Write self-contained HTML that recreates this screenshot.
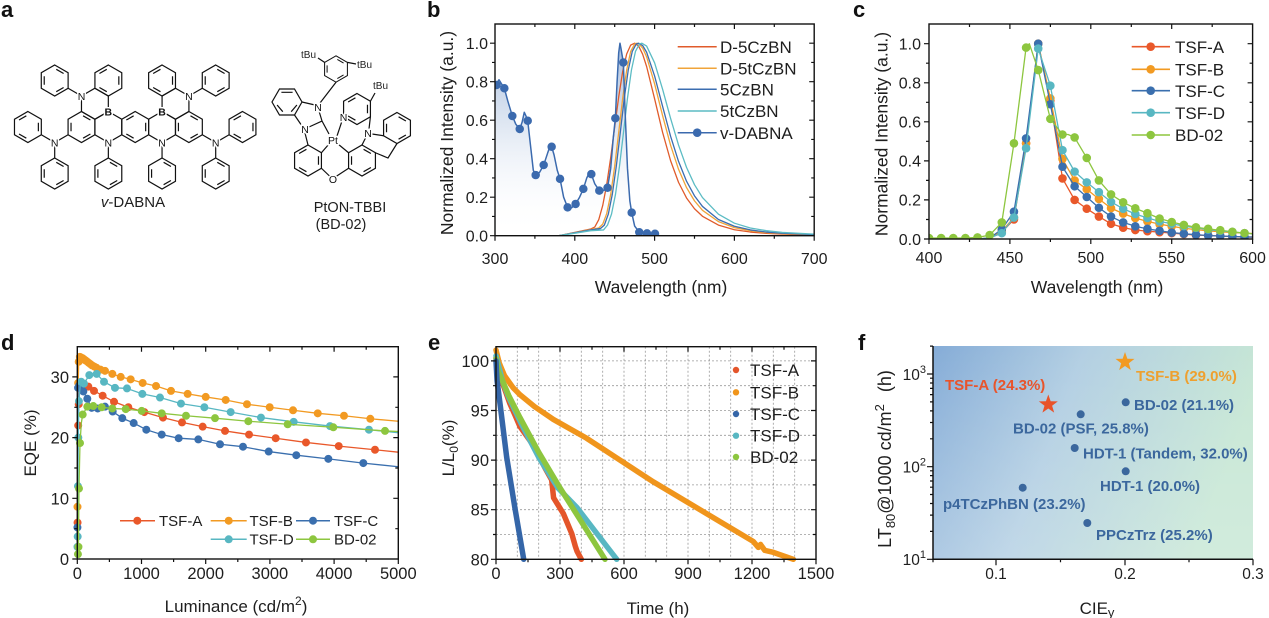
<!DOCTYPE html>
<html><head><meta charset="utf-8"><style>
html,body{margin:0;padding:0;background:#fff;}
svg{display:block;}
text{font-family:"Liberation Sans",Arial,sans-serif;fill:#1e1e1e;}
.lab{font-size:10.5px;text-anchor:middle;paint-order:stroke;stroke:#fff;stroke-width:3px;fill:#111;}
.pl{font-size:22px;font-weight:bold;fill:#111;}
.tk{font-size:16px;}
.ft{font-size:15px;font-weight:bold;fill:#3b679d;}
.nss{vector-effect:non-scaling-stroke;}
</style></head><body>
<svg width="1269" height="618" viewBox="0 0 1269 618" xmlns="http://www.w3.org/2000/svg">
<defs>
<g id="hx"><polygon points="0,-15.5 13.42,-7.75 13.42,7.75 0,15.5 -13.42,7.75 -13.42,-7.75"/></g>
<g id="bz1"><polygon points="0,-15.5 13.42,-7.75 13.42,7.75 0,15.5 -13.42,7.75 -13.42,-7.75"/><path d="M1.57,-11.19L8.9,-6.96M8.9,6.96L1.57,11.19M-10.47,4.24L-10.47,-4.24"/></g>
<g id="bz2"><polygon points="0,-15.5 13.42,-7.75 13.42,7.75 0,15.5 -13.42,7.75 -13.42,-7.75"/><path d="M10.47,-4.24L10.47,4.24M-1.57,11.19L-8.9,6.96M-8.9,-6.96L-1.57,-11.19"/></g>
<g id="fh"><polygon points="15,0 7.5,13 -7.5,13 -15,0 -7.5,-13 7.5,-13"/><path d="M5.6,-9.7L-5.6,-9.7M-9.9,3.0L-4.2,9.7M9.9,3.0L4.2,9.7"/></g>
<linearGradient id="absg" gradientUnits="userSpaceOnUse" x1="0" y1="1.02" x2="0" y2="0">
<stop offset="0" stop-color="#6f93c6" stop-opacity="0.62"/><stop offset="0.5" stop-color="#8fabd4" stop-opacity="0.22"/><stop offset="1" stop-color="#ffffff" stop-opacity="0"/></linearGradient>
<linearGradient id="fbg" x1="0" y1="0" x2="1" y2="0.25">
<stop offset="0" stop-color="#85acd7"/><stop offset="0.45" stop-color="#b3cfe3"/><stop offset="1" stop-color="#c7e7d5"/></linearGradient>
<linearGradient id="fbg2" x1="0" y1="0" x2="0" y2="1">
<stop offset="0" stop-color="#fff" stop-opacity="0"/><stop offset="1" stop-color="#fff" stop-opacity="0.18"/></linearGradient>
<clipPath id="cpb"><rect x="495" y="24" width="319.2" height="211.7"/></clipPath>
<clipPath id="cpc"><rect x="929" y="24" width="323.6" height="215"/></clipPath>
<path id="star" d="M0,-10L2.35,-3.23L9.51,-3.09L3.8,1.23L5.88,8.09L0,4L-5.88,8.09L-3.8,1.23L-9.51,-3.09L-2.35,-3.23Z"/>
</defs>

<!-- panel labels -->
<text class="pl" x="1" y="17">a</text>
<text class="pl" x="427" y="17">b</text>
<text class="pl" x="853" y="17">c</text>
<text class="pl" x="1" y="350">d</text>
<text class="pl" x="428" y="350">e</text>
<text class="pl" x="858" y="350">f</text>

<!-- ================= panel a ================= -->
<g fill="none" stroke="#111" stroke-width="1.2">
<use href="#bz1" x="81.5" y="127"/>
<use href="#hx" x="108.35" y="127"/>
<use href="#bz2" x="135.2" y="127"/>
<use href="#hx" x="162.05" y="127"/>
<use href="#bz1" x="188.9" y="127"/>
<use href="#hx" x="94.9" y="103.75"/>
<use href="#hx" x="175.5" y="103.75"/>
<use href="#bz2" x="108.35" y="80.5"/>
<use href="#bz2" x="162.05" y="80.5"/>
<use href="#bz1" x="54.7" y="80.5"/>
<use href="#bz1" x="215.7" y="80.5"/>
<use href="#bz1" x="108.35" y="173.5"/>
<use href="#bz1" x="162.05" y="173.5"/>
<use href="#bz2" x="27.9" y="127"/>
<use href="#bz1" x="54.7" y="173.5"/>
<use href="#bz2" x="242.5" y="127"/>
<use href="#bz1" x="215.7" y="173.5"/>
<path d="M81.5,96L68.1,88.25M188.9,96L202.3,88.25M108.35,142.5V158M162.05,142.5V158M68.1,134.75L54.7,142.5L41.3,134.75M54.7,142.5V158M202.3,134.75L215.7,142.5L229.1,134.75M215.7,142.5V158"/>
</g>
<text class="lab" x="81.5" y="100">N</text>
<text class="lab" x="188.9" y="100">N</text>
<text class="lab" x="108.35" y="146.5">N</text>
<text class="lab" x="162.05" y="146.5">N</text>
<text class="lab" x="54.7" y="146.5">N</text>
<text class="lab" x="215.7" y="146.5">N</text>
<text class="lab" x="108.35" y="115.5" font-weight="bold">B</text>
<text class="lab" x="162.05" y="115.5" font-weight="bold">B</text>
<text x="133" y="207" font-size="15" text-anchor="middle"><tspan font-style="italic">v</tspan>-DABNA</text>

<!-- PtON-TBBI -->
<g fill="none" stroke="#111" stroke-width="1.2">
<use href="#bz1" transform="translate(336,69) scale(0.85)"/>
<use href="#fh" x="287" y="102"/>
<use href="#bz2" x="308" y="160.5"/>
<use href="#bz1" x="362" y="160.5"/>
<use href="#bz2" x="357" y="109"/>
<use href="#bz1" x="397" y="128"/>
<path d="M324.6,62.4L318,58M347.4,62.4L356,64M320,103L336,82.2M302,102L315,105M319,111L322,121L309,127M302,126L294.5,115M305,133L308,145M322,121L329,134M329,144L321.4,152.75M321.4,168.25L330,176.5M336,176.5L348.6,168.25M338,144L348.6,152.75M337,136L342,121M369,129L370.4,116.75M366,137L362,145M370.4,101.25L375,93M372,134L383.6,135.75M397,143.5L388,158L375.4,152.75"/>
</g>
<text x="301" y="58" font-size="10">tBu</text>
<text x="357" y="68" font-size="10">tBu</text>
<text x="373" y="89" font-size="10">tBu</text>
<text class="lab" x="318" y="111">N</text>
<text class="lab" x="305" y="133">N</text>
<text class="lab" x="343.6" y="121">N</text>
<text class="lab" x="368" y="137">N</text>
<text class="lab" x="333" y="144">Pt</text>
<text class="lab" x="333" y="183">O</text>
<text x="350" y="212" font-size="14.5" text-anchor="middle">PtON-TBBI</text>
<text x="341" y="229" font-size="14.5" text-anchor="middle">(BD-02)</text>

<!-- ================= panel b ================= -->
<g clip-path="url(#cpb)">
<g transform="matrix(0.798,0,0,-192.5,255.6,235.7)">
<path fill="url(#absg)" stroke="none" d="M300 0L300 0.78L302 0.79L305 0.81L308 0.79L311.7 0.766L316 0.70L321.7 0.622L326 0.58L331 0.554L334 0.59L336.7 0.641L339 0.62L341 0.597L345 0.45L348 0.34L351 0.315L356 0.33L361 0.367L366 0.43L369 0.465L371 0.462L374 0.42L378 0.34L381.5 0.295L386 0.2L391 0.147L396 0.145L401 0.165L406 0.2L410.7 0.243L415 0.3L418 0.325L420.7 0.32L425 0.27L430.7 0.234L436 0.235L441 0.249L445 0.35L448 0.5L450.8 0.61L453 0.8L455 0.95L456.6 1.0L458 0.97L460.8 0.9L463 0.65L466 0.35L469 0.18L471.3 0.12L475 0.05L480.8 0.018L490 0.012L500.5 0.01L500.5 0Z"/>
<g fill="none" stroke-width="1.3" stroke-linejoin="round">
<path class="nss" stroke="#e05b2b" d="M380 0L400 0.017L420 0.035L425 0.045L430 0.083L435 0.157L440 0.266L445 0.406L450 0.565L455 0.721L460 0.853L465 0.944L470 0.99L475 1L480 0.985L485 0.943L490 0.879L500 0.711L510 0.537L520 0.39L530 0.277L540 0.196L550 0.14L560 0.101L580 0.055L600 0.031L620 0.019L640 0.012L660 0.008L700 0.004"/>
<path class="nss" stroke="#f0a43a" d="M380 0L400 0.016L420 0.032L430 0.04L435 0.06L440 0.115L445 0.215L450 0.361L455 0.536L460 0.714L465 0.861L470 0.957L475 0.996L478 1L480 0.998L485 0.975L490 0.929L500 0.789L510 0.624L520 0.47L530 0.345L540 0.25L550 0.181L560 0.132L580 0.073L600 0.042L620 0.026L640 0.016L660 0.011L700 0.005"/>
<path class="nss" stroke="#3b6db0" d="M380 0L400 0.015L420 0.03L432 0.037L437 0.055L442 0.112L447 0.215L452 0.361L457 0.536L462 0.714L467 0.861L472 0.957L477 0.996L480 1L485 0.988L490 0.953L500 0.83L510 0.672L520 0.517L530 0.386L540 0.283L550 0.207L560 0.152L580 0.084L600 0.049L620 0.03L640 0.019L660 0.013L700 0.006"/>
<path class="nss" stroke="#5cbcc4" d="M380 0L400 0.013L420 0.026L436 0.03L441 0.055L446 0.112L451 0.215L456 0.361L461 0.536L466 0.714L471 0.861L476 0.957L481 0.996L484 1L490 0.985L500 0.898L510 0.761L520 0.61L530 0.471L540 0.355L550 0.265L560 0.198L580 0.112L600 0.065L620 0.04L640 0.026L660 0.017L700 0.008"/>
<path class="nss" stroke="#3b6aae" stroke-width="1.5" d="M300 0.78L302 0.79L305 0.81L308 0.79L311.7 0.766L316 0.70L321.7 0.622L326 0.58L331 0.554L334 0.59L336.7 0.641L339 0.62L341 0.597L345 0.45L348 0.34L351 0.315L356 0.33L361 0.367L366 0.43L369 0.465L371 0.462L374 0.42L378 0.34L381.5 0.295L386 0.2L391 0.147L396 0.145L401 0.165L406 0.2L410.7 0.243L415 0.3L418 0.325L420.7 0.32L425 0.27L430.7 0.234L436 0.235L441 0.249L445 0.35L448 0.5L450.8 0.61L453 0.8L455 0.95L456.6 1.0L458 0.97L460.8 0.9L463 0.65L466 0.35L469 0.18L471.3 0.12L475 0.05L480.8 0.018L490 0.012L500.5 0.01"/>
<path class="nss" stroke="#3b6aae" stroke-width="8.5" stroke-linecap="round" d="M302 0.783h0M311.7 0.766h0M321.7 0.622h0M331 0.554h0M341 0.597h0M351 0.315h0M361 0.367h0M371 0.462h0M381.5 0.295h0M391 0.147h0M401 0.165h0M410.7 0.243h0M420.7 0.32h0M430.7 0.234h0M441 0.249h0M450.8 0.61h0M460.8 0.9h0M471.3 0.12h0M480.8 0.018h0M490.5 0.012h0M500.5 0.01h0"/>
</g>
</g>
</g>
<rect x="495" y="24" width="319.2" height="211.7" fill="none" stroke="#111" stroke-width="1.4"/>
<path fill="none" stroke="#111" stroke-width="1.2" d="M495 235.7v5M574.8 235.7v5M654.6 235.7v5M734.4 235.7v5M814.2 235.7v5M534.9 235.7v3M614.7 235.7v3M694.5 235.7v3M774.3 235.7v3M574.8 24v5M654.6 24v5M734.4 24v5M534.9 24v3M614.7 24v3M694.5 24v3M774.3 24v3M495 235.7h-5M495 197.2h-5M495 158.7h-5M495 120.2h-5M495 81.7h-5M495 43.2h-5M495 216.45h-3M495 177.95h-3M495 139.45h-3M495 100.95h-3M495 62.45h-3M814.2 197.2h-5M814.2 158.7h-5M814.2 120.2h-5M814.2 81.7h-5M814.2 43.2h-5M814.2 216.45h-3M814.2 177.95h-3M814.2 139.45h-3M814.2 100.95h-3M814.2 62.45h-3"/>
<g class="tk" text-anchor="end">
<text x="488" y="241.5">0.0</text><text x="488" y="203">0.2</text><text x="488" y="164.5">0.4</text><text x="488" y="126">0.6</text><text x="488" y="87.5">0.8</text><text x="488" y="49">1.0</text>
</g>
<g class="tk" text-anchor="middle">
<text x="495" y="264">300</text><text x="574.8" y="264">400</text><text x="654.6" y="264">500</text><text x="734.4" y="264">600</text><text x="814.2" y="264">700</text>
</g>
<text x="661" y="293" font-size="17.5" text-anchor="middle">Wavelength (nm)</text>
<text transform="translate(453,133) rotate(-90)" font-size="17.5" text-anchor="middle">Normalized Intensity (a.u.)</text>
<g stroke-width="1.5">
<line x1="677.7" y1="46.7" x2="716.7" y2="46.7" stroke="#e05b2b"/>
<line x1="677.7" y1="68.3" x2="716.7" y2="68.3" stroke="#f0a43a"/>
<line x1="677.7" y1="89.3" x2="716.7" y2="89.3" stroke="#3b6db0"/>
<line x1="677.7" y1="111" x2="716.7" y2="111" stroke="#5cbcc4"/>
<line x1="677.7" y1="132.7" x2="716.7" y2="132.7" stroke="#3b6aae"/>
</g>
<circle cx="697.2" cy="132.7" r="4.3" fill="#3b6aae"/>
<g font-size="17">
<text x="720" y="52.8">D-5CzBN</text><text x="720" y="74.4">D-5tCzBN</text><text x="720" y="95.4">5CzBN</text><text x="720" y="117.1">5tCzBN</text><text x="720" y="138.8">v-DABNA</text>
</g>

<!-- ================= panel c ================= -->
<g clip-path="url(#cpc)">
<g transform="matrix(1.618,0,0,-195.3,281.8,239)" fill="none" stroke-linejoin="round">
<path class="nss" stroke="#e9582a" stroke-width="1.3" d="M430 0L437.5 0.005L445 0.035L452.5 0.10L460 0.49L467.5 1.0L475 0.71L482.5 0.31L490 0.20L497.5 0.155L505 0.115L512.5 0.078L520 0.058L527.5 0.046L535 0.04L542.5 0.035L550 0.03L557.5 0.025L565 0.02L572.5 0.018L580 0.015L587.5 0.012L595 0.01L600 0.01"/>
<path class="nss" stroke="#e9582a" stroke-width="8.6" stroke-linecap="round" d="M445 0.035h0M452.5 0.10h0M460 0.49h0M467.5 1.0h0M475 0.71h0M482.5 0.31h0M490 0.20h0M497.5 0.155h0M505 0.115h0M512.5 0.078h0M520 0.058h0M527.5 0.046h0M535 0.04h0M542.5 0.035h0M550 0.03h0M557.5 0.025h0M565 0.02h0M572.5 0.018h0M580 0.015h0M587.5 0.012h0M595 0.01h0"/>
<path class="nss" stroke="#f29a22" stroke-width="1.3" d="M430 0L437.5 0.005L445 0.04L452.5 0.11L460 0.49L467.5 1.0L475 0.72L482.5 0.41L490 0.30L497.5 0.255L505 0.205L512.5 0.158L520 0.13L527.5 0.107L535 0.09L542.5 0.076L550 0.065L557.5 0.055L565 0.048L572.5 0.042L580 0.037L587.5 0.033L595 0.03L600 0.028"/>
<path class="nss" stroke="#f29a22" stroke-width="8.6" stroke-linecap="round" d="M445 0.04h0M452.5 0.11h0M460 0.49h0M467.5 1.0h0M475 0.72h0M482.5 0.41h0M490 0.30h0M497.5 0.255h0M505 0.205h0M512.5 0.158h0M520 0.13h0M527.5 0.107h0M535 0.09h0M542.5 0.076h0M550 0.065h0M557.5 0.055h0M565 0.048h0M572.5 0.042h0M580 0.037h0M587.5 0.033h0M595 0.03h0"/>
<path class="nss" stroke="#3a6fae" stroke-width="1.3" d="M430 0L437.5 0.005L445 0.05L452.5 0.14L460 0.515L467.5 1.0L475 0.69L482.5 0.37L490 0.27L497.5 0.215L505 0.16L512.5 0.115L520 0.085L527.5 0.065L535 0.052L542.5 0.042L550 0.033L557.5 0.027L565 0.022L572.5 0.018L580 0.015L587.5 0.013L595 0.011L600 0.01"/>
<path class="nss" stroke="#3a6fae" stroke-width="8.6" stroke-linecap="round" d="M445 0.05h0M452.5 0.14h0M460 0.515h0M467.5 1.0h0M475 0.69h0M482.5 0.37h0M490 0.27h0M497.5 0.215h0M505 0.16h0M512.5 0.115h0M520 0.085h0M527.5 0.065h0M535 0.052h0M542.5 0.042h0M550 0.033h0M557.5 0.027h0M565 0.022h0M572.5 0.018h0M580 0.015h0M587.5 0.013h0M595 0.011h0"/>
<path class="nss" stroke="#58b7c2" stroke-width="1.3" d="M430 0L437.5 0.005L445 0.03L452.5 0.11L460 0.465L467.5 0.975L475 0.785L482.5 0.455L490 0.345L497.5 0.29L505 0.24L512.5 0.19L520 0.155L527.5 0.128L535 0.108L542.5 0.09L550 0.078L557.5 0.066L565 0.057L572.5 0.048L580 0.042L587.5 0.036L595 0.03L600 0.027"/>
<path class="nss" stroke="#58b7c2" stroke-width="8.6" stroke-linecap="round" d="M445 0.03h0M452.5 0.11h0M460 0.465h0M467.5 0.975h0M475 0.785h0M482.5 0.455h0M490 0.345h0M497.5 0.29h0M505 0.24h0M512.5 0.19h0M520 0.155h0M527.5 0.128h0M535 0.108h0M542.5 0.09h0M550 0.078h0M557.5 0.066h0M565 0.057h0M572.5 0.048h0M580 0.042h0M587.5 0.036h0M595 0.03h0"/>
<path class="nss" stroke="#8dc63f" stroke-width="1.3" d="M400 0.005L407.5 0.005L415 0.005L422.5 0.005L430 0.008L437.5 0.02L445 0.085L452.5 0.49L460 0.98L462 1.0L467.5 0.865L475 0.615L482.5 0.535L486 0.535L490 0.52L497.5 0.415L505 0.30L512.5 0.228L520 0.188L527.5 0.157L535 0.132L542.5 0.105L550 0.087L557.5 0.072L565 0.06L572.5 0.052L580 0.045L587.5 0.037L595 0.03L600 0.027"/>
<path class="nss" stroke="#8dc63f" stroke-width="8.6" stroke-linecap="round" d="M400 0.005h0M407.5 0.005h0M415 0.005h0M422.5 0.005h0M430 0.008h0M437.5 0.02h0M445 0.085h0M452.5 0.49h0M460 0.98h0M467.5 0.865h0M475 0.615h0M482.5 0.535h0M490 0.52h0M497.5 0.415h0M505 0.30h0M512.5 0.228h0M520 0.188h0M527.5 0.157h0M535 0.132h0M542.5 0.105h0M550 0.087h0M557.5 0.072h0M565 0.06h0M572.5 0.052h0M580 0.045h0M587.5 0.037h0M595 0.03h0M602.5 0.025h0"/>
</g>
</g>
<rect x="929" y="24" width="323.6" height="215" fill="none" stroke="#111" stroke-width="1.4"/>
<path fill="none" stroke="#111" stroke-width="1.2" d="M929 239v5M1009.9 239v5M1090.8 239v5M1171.7 239v5M1252.6 239v5M969.5 239v3M1050.4 239v3M1131.3 239v3M1212.2 239v3M1009.9 24v5M1090.8 24v5M1171.7 24v5M969.5 24v3M1050.4 24v3M1131.3 24v3M1212.2 24v3M929 239h-5M929 199.9h-5M929 160.9h-5M929 121.8h-5M929 82.8h-5M929 43.7h-5M929 219.5h-3M929 180.4h-3M929 141.3h-3M929 102.3h-3M929 63.2h-3M1252.6 199.9h-5M1252.6 160.9h-5M1252.6 121.8h-5M1252.6 82.8h-5M1252.6 43.7h-5M1252.6 219.5h-3M1252.6 180.4h-3M1252.6 141.3h-3M1252.6 102.3h-3M1252.6 63.2h-3"/>
<g class="tk" text-anchor="end">
<text x="921" y="244.8">0.0</text><text x="921" y="205.7">0.2</text><text x="921" y="166.7">0.4</text><text x="921" y="127.6">0.6</text><text x="921" y="88.6">0.8</text><text x="921" y="49.5">1.0</text>
</g>
<g class="tk" text-anchor="middle">
<text x="929" y="263">400</text><text x="1009.9" y="263">450</text><text x="1090.8" y="263">500</text><text x="1171.7" y="263">550</text><text x="1252.6" y="263">600</text>
</g>
<text x="1097" y="293" font-size="17.5" text-anchor="middle">Wavelength (nm)</text>
<text transform="translate(887.5,134) rotate(-90)" font-size="17.5" text-anchor="middle">Normalized Intensity (a.u.)</text>
<g stroke-width="1.6">
<line x1="1131.7" y1="46.7" x2="1170" y2="46.7" stroke="#e9582a"/>
<line x1="1131.7" y1="69.3" x2="1170" y2="69.3" stroke="#f29a22"/>
<line x1="1131.7" y1="90.7" x2="1170" y2="90.7" stroke="#3a6fae"/>
<line x1="1131.7" y1="112.7" x2="1170" y2="112.7" stroke="#58b7c2"/>
<line x1="1131.7" y1="135" x2="1170" y2="135" stroke="#8dc63f"/>
</g>
<circle cx="1150.7" cy="46.7" r="4.3" fill="#e9582a"/>
<circle cx="1150.7" cy="69.3" r="4.3" fill="#f29a22"/>
<circle cx="1150.7" cy="90.7" r="4.3" fill="#3a6fae"/>
<circle cx="1150.7" cy="112.7" r="4.3" fill="#58b7c2"/>
<circle cx="1150.7" cy="135" r="4.3" fill="#8dc63f"/>
<g font-size="17">
<text x="1175" y="52.8">TSF-A</text><text x="1175" y="75.4">TSF-B</text><text x="1175" y="96.8">TSF-C</text><text x="1175" y="118.8">TSF-D</text><text x="1175" y="141.1">BD-02</text>
</g>

<!-- ================= panel d ================= -->
<g transform="matrix(0.0642,0,0,-6.07,77.3,559)" fill="none" stroke-linejoin="round">
<path class="nss" stroke="#e9582a" stroke-width="1.3" d="M0 0.5L4 6L8 15L14 22L22 25.5L35 27.5L60 28.4L100 28.5L172 28.4L260 27.7L395 26.9L572 25.9L795 25L1044 24.2L1335 23.3L1631 22.5L1953 21.8L2301 21.1L2675 20.5L3090 19.9L3562 19.2L4072 18.6L4637 18L5000 17.6"/>
<path class="nss" stroke="#e9582a" stroke-width="8" stroke-linecap="round" d="M4 6h0M14 22h0M22 25.5h0M60 28.4h0M172 28.4h0M260 27.7h0M395 26.9h0M572 25.9h0M795 25h0M1044 24.2h0M1335 23.3h0M1631 22.5h0M1953 21.8h0M2301 21.1h0M2675 20.5h0M3090 19.9h0M3562 19.2h0M4072 18.6h0M4637 18h0"/>
<path class="nss" stroke="#f29a22" stroke-width="1.3" d="M0 0.5L3 8.6L8 20L14 29L22 32.5L40 33.3L60 33.2L80 33.1L105 32.9L130 32.7L155 32.5L180 32.3L205 32.1L230 31.9L265 31.7L300 31.5L360 31.2L431 31L545 30.5L676 30L831 29.6L1018 29L1226 28.5L1459 27.7L1719 27.2L2000 26.7L2311 26.2L2643 25.5L2997 25L3360 24.5L3745 24L4154 23.6L4564 23.1L5000 22.7"/>
<path class="nss" stroke="#f29a22" stroke-width="8" stroke-linecap="round" d="M3 8.6h0M14 29h0M22 32.5h0M40 33.3h0M60 33.2h0M80 33.1h0M105 32.9h0M130 32.7h0M155 32.5h0M180 32.3h0M205 32.1h0M230 31.9h0M265 31.7h0M300 31.5h0M360 31.2h0M431 31h0M545 30.5h0M676 30h0M831 29.6h0M1018 29h0M1226 28.5h0M1459 27.7h0M1719 27.2h0M2000 26.7h0M2311 26.2h0M2643 25.5h0M2997 25h0M3360 24.5h0M3745 24h0M4154 23.6h0M4564 23.1h0"/>
<path class="nss" stroke="#3a6fae" stroke-width="1.3" d="M0 0.5L2 5.2L5 15L8 25L12 28.2L30 28.6L60 28.1L94 27.6L156 26.4L224 24.9L318 24.8L431 25.1L551 24.3L701 23.2L878 22.4L1075 21.3L1315 20.5L1579 19.9L1885 19.7L2223 18.9L2581 18.5L2981 17.7L3411 17.1L3910 16.5L4455 15.8L5000 15.2"/>
<path class="nss" stroke="#3a6fae" stroke-width="8" stroke-linecap="round" d="M2 5.2h0M12 28.2h0M30 28.6h0M60 28.1h0M94 27.6h0M156 26.4h0M224 24.9h0M318 24.8h0M431 25.1h0M551 24.3h0M701 23.2h0M878 22.4h0M1075 21.3h0M1315 20.5h0M1579 19.9h0M1885 19.7h0M2223 18.9h0M2581 18.5h0M2981 17.7h0M3411 17.1h0M3910 16.5h0M4455 15.8h0"/>
<path class="nss" stroke="#58b7c2" stroke-width="1.3" d="M0 0.5L3 2L6 3.7L10 12L16 20L25 26L45 28.6L60 29.2L104 28.9L187 30.3L302 30.5L416 29.2L587 28.2L774 28.1L1013 27.2L1288 26.6L1615 25.6L1979 25L2389 24.2L2861 23.3L3370 22.6L3936 21.9L4543 21.3L5000 20.8"/>
<path class="nss" stroke="#58b7c2" stroke-width="8" stroke-linecap="round" d="M3 2h0M6 3.7h0M10 12h0M16 20h0M25 26h0M60 29.2h0M104 28.9h0M187 30.3h0M302 30.5h0M416 29.2h0M587 28.2h0M774 28.1h0M1013 27.2h0M1288 26.6h0M1615 25.6h0M1979 25h0M2389 24.2h0M2861 23.3h0M3370 22.6h0M3936 21.9h0M4543 21.3h0"/>
<path class="nss" stroke="#8dc63f" stroke-width="1.3" d="M0 0.3L10 0.8L18 2L26 11.6L42 19.1L63 22.4L84 23.8L156 25.1L249 25.2L380 25L545 24.8L754 24.7L1003 24.4L1315 24L1693 23.6L2145 23.2L2664 22.7L3277 22.2L3988 21.7L4793 21.1L5000 21"/>
<path class="nss" stroke="#8dc63f" stroke-width="8" stroke-linecap="round" d="M10 0.8h0M18 2h0M26 11.6h0M42 19.1h0M84 23.8h0M156 25.1h0M249 25.2h0M380 25h0M545 24.8h0M754 24.7h0M1003 24.4h0M1315 24h0M1693 23.6h0M2145 23.2h0M2664 22.7h0M3277 22.2h0M3988 21.7h0M4793 21.1h0"/>
</g>
<rect x="77.3" y="346.7" width="321" height="212.3" fill="none" stroke="#111" stroke-width="1.4"/>
<path fill="none" stroke="#111" stroke-width="1.2" d="M77.3 559v5M141.5 559v5M205.7 559v5M269.9 559v5M334.1 559v5M398.3 559v5M109.4 559v3M173.6 559v3M237.8 559v3M302 559v3M366.2 559v3M141.5 346.7v5M205.7 346.7v5M269.9 346.7v5M334.1 346.7v5M109.4 346.7v3M173.6 346.7v3M237.8 346.7v3M302 346.7v3M366.2 346.7v3M77.3 559h-5M77.3 498.3h-5M77.3 437.6h-5M77.3 376.9h-5M77.3 528.7h-3M77.3 468h-3M77.3 407.3h-3M398.3 498.3h-5M398.3 437.6h-5M398.3 376.9h-5M398.3 528.7h-3M398.3 468h-3M398.3 407.3h-3"/>
<g font-size="16.5" text-anchor="end">
<text x="69" y="565">0</text><text x="69" y="504.3">10</text><text x="69" y="443.6">20</text><text x="69" y="382.9">30</text>
</g>
<g font-size="16.5" text-anchor="middle">
<text x="77.3" y="579">0</text><text x="141.5" y="579">1000</text><text x="205.7" y="579">2000</text><text x="269.9" y="579">3000</text><text x="334.1" y="579">4000</text><text x="398.3" y="579">5000</text>
</g>
<text x="236" y="612" font-size="17" text-anchor="middle">Luminance (cd/m<tspan dy="-7" font-size="12">2</tspan><tspan dy="7">)</tspan></text>
<text transform="translate(36,443) rotate(-90)" font-size="17" text-anchor="middle">EQE (%)</text>
<g stroke-width="1.5">
<line x1="120" y1="520.7" x2="155" y2="520.7" stroke="#e9582a"/>
<line x1="210.7" y1="520.7" x2="246.7" y2="520.7" stroke="#f29a22"/>
<line x1="296" y1="520.7" x2="330" y2="520.7" stroke="#3a6fae"/>
<line x1="210.7" y1="539.3" x2="246.7" y2="539.3" stroke="#58b7c2"/>
<line x1="296" y1="539.3" x2="330" y2="539.3" stroke="#8dc63f"/>
</g>
<circle cx="137.3" cy="520.7" r="4" fill="#e9582a"/>
<circle cx="228.7" cy="520.7" r="4" fill="#f29a22"/>
<circle cx="313" cy="520.7" r="4" fill="#3a6fae"/>
<circle cx="228.7" cy="539.3" r="4" fill="#58b7c2"/>
<circle cx="313" cy="539.3" r="4" fill="#8dc63f"/>
<g font-size="15">
<text x="159" y="526">TSF-A</text><text x="249.5" y="526">TSF-B</text><text x="334" y="526">TSF-C</text><text x="249.5" y="544.6">TSF-D</text><text x="334" y="544.6">BD-02</text>
</g>

<!-- ================= panel e ================= -->
<path fill="none" stroke="#9a9a9a" stroke-width="0.8" stroke-dasharray="2,2" d="M517.3 346.7V559.3M538.7 346.7V559.3M560 346.7V559.3M581.3 346.7V559.3M602.7 346.7V559.3M624 346.7V559.3M645.3 346.7V559.3M666.7 346.7V559.3M688 346.7V559.3M709.3 346.7V559.3M730.7 346.7V559.3M752 346.7V559.3M773.3 346.7V559.3M794.7 346.7V559.3M496 534.5H816M496 509.7H816M496 484.9H816M496 460.1H816M496 435.3H816M496 410.5H816M496 385.7H816M496 360.9H816"/>
<g transform="matrix(0.2133,0,0,-9.92,496,1352.9)" fill="none" stroke-width="5.5" stroke-linecap="round" stroke-linejoin="round">
<path class="nss" stroke="#f0951c" d="M0 101.1L15 99.8L40 98.5L80 97.3L112 96.6L180 95.4L269 94.1L425 92.2L581 90L738 87.8L894 85.8L1050 83.8L1206 81.8L1230 81.2L1240 81.5L1260 80.9L1300 80.7L1394 80"/>
<path class="nss" stroke="#e4552a" d="M0 100.3L30 97.8L65 95.7L90 94.5L112 93.4L175 91.5L230 89.2L261 88L270 86.2L316 84.6L355 82.6L372 81.3L380 80.8L395 80.2L400 80"/>
<path class="nss" stroke="#58b7c2" d="M0 100.5L30 98L60 96.3L120 93.6L200 90.3L290 87.2L380 85.2L480 82.4L530 81L566 80"/>
<path class="nss" stroke="#8dc63f" d="M0 100.2L10 99L60 96.5L112 94.3L200 90.8L300 87.2L400 83.8L511 80"/>
<path class="nss" stroke="#3566a8" d="M0 100L5 98L20 95.5L50 90.3L90 85L130 80"/>
</g>
<rect x="496" y="346.7" width="320" height="212.6" fill="none" stroke="#111" stroke-width="1.4"/>
<path fill="none" stroke="#111" stroke-width="1.2" d="M496 559.3v5M560 559.3v5M624 559.3v5M688 559.3v5M752 559.3v5M816 559.3v5M528 559.3v3M592 559.3v3M656 559.3v3M720 559.3v3M784 559.3v3M560 346.7v5M624 346.7v5M688 346.7v5M752 346.7v5M528 346.7v3M592 346.7v3M656 346.7v3M720 346.7v3M784 346.7v3M496 559.3h-5M496 509.7h-5M496 460.1h-5M496 410.5h-5M496 360.9h-5M496 534.5h-3M496 484.9h-3M496 435.3h-3M496 385.7h-3M816 509.7h-5M816 460.1h-5M816 410.5h-5M816 360.9h-5M816 534.5h-3M816 484.9h-3M816 435.3h-3M816 385.7h-3"/>
<g font-size="16.5" text-anchor="end">
<text x="489" y="565.3">80</text><text x="489" y="515.7">85</text><text x="489" y="466.1">90</text><text x="489" y="416.5">95</text><text x="489" y="366.9">100</text>
</g>
<g font-size="16.5" text-anchor="middle">
<text x="496" y="579">0</text><text x="560" y="579">300</text><text x="624" y="579">600</text><text x="688" y="579">900</text><text x="752" y="579">1200</text><text x="816" y="579">1500</text>
</g>
<text x="658" y="614" font-size="17" text-anchor="middle">Time (h)</text>
<text transform="translate(454,448) rotate(-90)" font-size="17" text-anchor="middle">L/L<tspan dy="4" font-size="12">0</tspan><tspan dy="-4">(%)</tspan></text>
<circle cx="736" cy="370" r="3.2" fill="#e4552a"/>
<circle cx="736" cy="392.3" r="3.2" fill="#f0951c"/>
<circle cx="736" cy="414" r="3.2" fill="#3566a8"/>
<circle cx="736" cy="435.7" r="3.2" fill="#58b7c2"/>
<circle cx="736" cy="457" r="3.2" fill="#8dc63f"/>
<g font-size="17">
<text x="750" y="376">TSF-A</text><text x="750" y="398.3">TSF-B</text><text x="750" y="420">TSF-C</text><text x="750" y="441.7">TSF-D</text><text x="750" y="463">BD-02</text>
</g>

<!-- ================= panel f ================= -->
<rect x="933" y="346" width="320" height="213.3" fill="url(#fbg)"/>
<rect x="933" y="346" width="320" height="213.3" fill="url(#fbg2)"/>
<path fill="none" stroke="#111" stroke-width="1.5" d="M933 346V559.3H1253"/>
<path fill="none" stroke="#111" stroke-width="1.2" d="M933 559.3h-6M933 466.7h-6M933 374h-6M933 531.4h-3M933 515.1h-3M933 503.5h-3M933 494.5h-3M933 487.2h-3M933 481h-3M933 475.6h-3M933 470.8h-3M933 438.8h-3M933 422.5h-3M933 410.9h-3M933 401.9h-3M933 394.6h-3M933 388.4h-3M933 383h-3M933 378.2h-3M933 346.1h-3M996 559.3v6M1125 559.3v6M1253 559.3v6M933 559.3v3M1060.5 559.3v3M1189 559.3v3"/>
<g fill="#3b679d">
<circle cx="1125.7" cy="402.3" r="4"/>
<circle cx="1080.7" cy="414.3" r="4"/>
<circle cx="1074.7" cy="448" r="4"/>
<circle cx="1125.7" cy="471.3" r="4"/>
<circle cx="1022.7" cy="487.7" r="4"/>
<circle cx="1087.3" cy="523" r="4"/>
</g>
<use href="#star" x="1125" y="362" fill="#f29a22"/>
<use href="#star" x="1048.3" y="404.5" fill="#e8532a"/>
<text class="ft" x="1136" y="381" style="fill:#eea02f">TSF-B (29.0%)</text>
<text class="ft" x="945" y="390" style="fill:#e8542b">TSF-A (24.3%)</text>
<text class="ft" x="1134" y="410">BD-02 (21.1%)</text>
<text class="ft" x="1013" y="433.5">BD-02 (PSF, 25.8%)</text>
<text class="ft" x="1083" y="458.5">HDT-1 (Tandem, 32.0%)</text>
<text class="ft" x="1100" y="491">HDT-1 (20.0%)</text>
<text class="ft" x="943" y="509">p4TCzPhBN (23.2%)</text>
<text class="ft" x="1096" y="540">PPCzTrz (25.2%)</text>
<g font-size="15.5" text-anchor="end">
<text x="926" y="565">10<tspan dy="-7" font-size="11">1</tspan></text>
<text x="926" y="472.5">10<tspan dy="-7" font-size="11">2</tspan></text>
<text x="926" y="380">10<tspan dy="-7" font-size="11">3</tspan></text>
</g>
<g font-size="15.5" text-anchor="middle">
<text x="996" y="579">0.1</text><text x="1125" y="579">0.2</text><text x="1253" y="579">0.3</text>
</g>
<text x="1097" y="614" font-size="17" text-anchor="middle">CIE<tspan font-size="13" dy="3">y</tspan></text>
<text transform="translate(891,459) rotate(-90)" font-size="18" text-anchor="middle">LT<tspan font-size="13" dy="4">80</tspan><tspan dy="-4">@1000 cd/m</tspan><tspan font-size="13" dy="-7">2</tspan><tspan dy="7" dx="12">(h)</tspan></text>
</svg>
</body></html>
